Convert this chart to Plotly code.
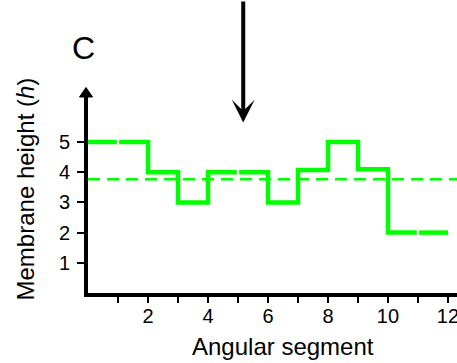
import plotly.graph_objects as go

segments = list(range(1, 13))
heights = [5, 5, 4, 3, 4, 4, 3, 4.07, 5, 4.1, 2, 2]
x_ticks = [1, 2, 3, 4, 5, 6, 7, 8, 9, 10, 11, 12]
x_tick_labels = ["", "2", "", "4", "", "6", "", "8", "", "10", "", "12"]
y_ticks = [1, 2, 3, 4, 5]
mean_h = sum(heights) / len(heights)

# build step path: horizontal per segment, vertical joins where value changes, tiny break where equal
gap = 0.04
xs, ys = [], []
for i, h in enumerate(heights):
    x0, x1 = segments[i] - 1, segments[i]
    if i > 0 and heights[i - 1] == h:
        xs += [None, x0 + gap]
        ys += [None, h]
    else:
        xs.append(x0)
        ys.append(h)
    if i < len(heights) - 1 and heights[i + 1] == h:
        xs.append(x1 - gap)
    else:
        xs.append(x1)
    ys.append(h)

W, H = 457, 363
L, R, T, B = 87.6, 0, 97, 70
pw, ph = W - L - R, H - T - B

fig = go.Figure()
fig.add_trace(go.Scatter(x=[0, 12.4], y=[mean_h, mean_h], mode="lines",
                         line=dict(color="#00ff00", width=2.5, dash="12px,7px"),
                         hoverinfo="skip"))
fig.add_trace(go.Scatter(x=xs, y=ys, mode="lines",
                         line=dict(color="#00ff00", width=4.5),
                         connectgaps=False, hoverinfo="skip"))

font_family = "Liberation Sans, Arial, Helvetica, sans-serif"
fig.update_layout(
    width=W, height=H,
    margin=dict(l=L, r=R, t=T, b=B, pad=0),
    paper_bgcolor="white", plot_bgcolor="white",
    showlegend=False,
    font=dict(family=font_family, color="black", size=20),
    xaxis=dict(range=[0, (W - L) / 30.03], tickvals=x_ticks, ticktext=x_tick_labels,
               showgrid=False, zeroline=False, showline=True, linecolor="black",
               linewidth=4, ticks="outside", ticklen=6, tickwidth=1.5,
               tickcolor="black", automargin=False, tickfont=dict(size=20),
               ticklabeloverflow="allow", ticklabelstandoff=-4),
    yaxis=dict(range=[0, ph / 30.2], tickvals=y_ticks, showgrid=False, zeroline=False,
               showline=True, linecolor="black", linewidth=4, ticks="outside",
               ticklen=7, tickwidth=1.5, tickcolor="black", automargin=False,
               tickfont=dict(size=20), ticklabelstandoff=3),
    shapes=[
        # y-axis arrowhead
        dict(type="path", xref="paper", yref="paper", xsizemode="pixel",
             ysizemode="pixel", xanchor=-2 / pw, yanchor=1,
             path="M-6.5,0 L6.5,0 L0,9.5 Z", fillcolor="black",
             line=dict(color="black", width=1)),
    ],
    annotations=[
        dict(text="C", x=(83 - L) / pw, y=(H - B - 48) / ph, xref="paper", yref="paper",
             showarrow=False, font=dict(size=32), xanchor="center", yanchor="middle"),
        dict(text="Angular segment", xref="paper", yref="paper", x=(283 - L) / pw,
             y=(H - B - 346) / ph, showarrow=False, font=dict(size=24),
             xanchor="center", yanchor="middle"),
        dict(text="Membrane height (<i>h</i>)", xref="paper", yref="paper",
             x=(25 - L) / pw, y=(H - B - 189) / ph, textangle=-90, showarrow=False,
             font=dict(size=24), xanchor="center", yanchor="middle"),
        # big pointing arrow
        dict(x=(243 - L) / pw, y=(H - B - 122.5) / ph, xref="paper", yref="paper",
             ax=0, ay=-124, text="", showarrow=True, arrowhead=3, arrowsize=0.95,
             arrowwidth=4, arrowcolor="black", standoff=0),
    ],
)
fig.write_html("out.html", config={"displayModeBar": False},
               post_script="document.body.style.margin='0';")
